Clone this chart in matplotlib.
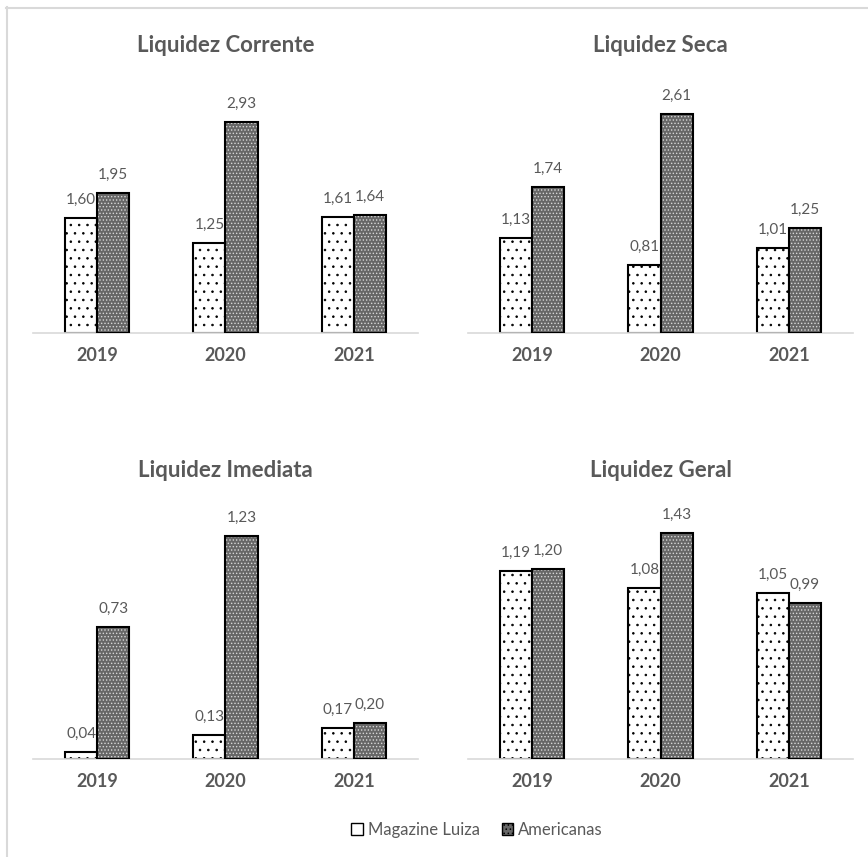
import matplotlib.pyplot as plt
from matplotlib.lines import Line2D
from matplotlib.patches import Patch

plt.rcParams['font.family'] = ['Lato', 'DejaVu Sans']
plt.rcParams['hatch.linewidth'] = 0.6

anos = ['2019', '2020', '2021']
titulos = ['Liquidez Corrente', 'Liquidez Seca', 'Liquidez Imediata', 'Liquidez Geral']
magalu = [[1.60, 1.25, 1.61], [1.13, 0.81, 1.01], [0.04, 0.13, 0.17], [1.19, 1.08, 1.05]]
americanas = [[1.95, 2.93, 1.64], [1.74, 2.61, 1.25], [0.73, 1.23, 0.20], [1.20, 1.43, 0.99]]
ytopo = [3.374, 2.896, 1.340, 1.538]

cinza = '#595959'
W, H = 868, 857
fig = plt.figure(figsize=(W / 100, H / 100), dpi=100)

# posicoes em pixels: (esquerda, linha de base)
pos = [(33, 333), (468, 333), (33, 759), (468, 759)]
larg_px, alt_px = 385, 243

largura = 0.25
x = list(range(len(anos)))

for i in range(4):
    esq, base = pos[i]
    ax = fig.add_axes([esq / W, 1 - base / H, larg_px / W, alt_px / H])
    xm = [v - largura / 2 for v in x]
    xa = [v + largura / 2 for v in x]
    ax.bar(xm, magalu[i], largura, color='white', edgecolor='black', hatch='..', linewidth=1.5, zorder=2)
    # fundo pontilhado escuro das Americanas
    ax.bar(xa, americanas[i], largura, color='#676767', edgecolor='#d8d8d8', hatch='.....', linewidth=0, zorder=2)
    ax.bar(xa, americanas[i], largura, fill=False, edgecolor='black', linewidth=1.5, zorder=3)
    for xx, v in zip(xm, magalu[i]):
        ax.annotate(f'{v:.2f}'.replace('.', ','), (xx, v), xytext=(0, 13), textcoords='offset points',
                    ha='center', va='center', fontsize=11, color=cinza)
    for xx, v in zip(xa, americanas[i]):
        ax.annotate(f'{v:.2f}'.replace('.', ','), (xx, v), xytext=(0, 13), textcoords='offset points',
                    ha='center', va='center', fontsize=11, color=cinza)
    ax.set_xlim(-0.5, 2.5)
    ax.set_ylim(0, ytopo[i])
    ax.set_xticks(x)
    ax.set_xticklabels(anos, fontsize=13, fontweight='bold', color=cinza)
    ax.tick_params(axis='x', length=0, pad=10)
    ax.set_yticks([])
    for s in ['top', 'right', 'left']:
        ax.spines[s].set_visible(False)
    ax.spines['bottom'].set_color('#d9d9d9')
    ax.spines['bottom'].set_linewidth(1.2)
    ax.set_facecolor('none')
    ty = 45 if i < 2 else 471
    fig.text((esq + larg_px / 2) / W, 1 - ty / H, titulos[i], ha='center', va='center',
             fontsize=16, fontweight='bold', color=cinza)

handles = [Patch(facecolor='white', edgecolor='black', label='Magazine Luiza'),
           Patch(facecolor='#676767', edgecolor='black', hatch='....', label='Americanas')]
fig.legend(handles=handles, loc='center', bbox_to_anchor=(477 / W, 1 - 830 / H), ncol=2, frameon=False,
           fontsize=12, handlelength=0.7, handleheight=0.7, handletextpad=0.3, columnspacing=1.3,
           labelcolor=cinza)

# borda cinza do grafico
fig.add_artist(Line2D([6 / W, 1], [1 - 7.5 / H, 1 - 7.5 / H], color='#d9d9d9', lw=1.5))
fig.add_artist(Line2D([6.5 / W, 6.5 / W], [0, 1 - 7 / H], color='#d9d9d9', lw=1.5))

fig.savefig('out.png', dpi=100, facecolor='white')
